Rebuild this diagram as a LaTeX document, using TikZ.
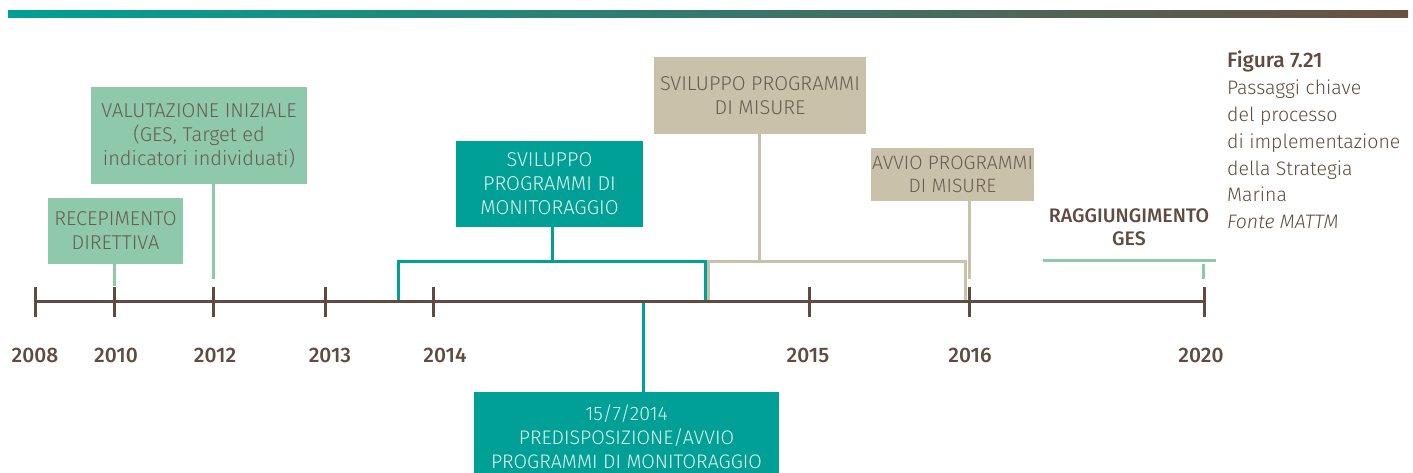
\documentclass[tikz,border=0pt]{standalone}
\usepackage{fontspec}
\IfFontExistsTF{Fira Sans Light}{\setmainfont{Fira Sans}[UprightFont={* Light},BoldFont={* Medium},ItalicFont={* Light Italic},BoldItalicFont={* Medium Italic}]}{\setmainfont{Fira Sans}}
\definecolor{tealc}{HTML}{00A096}
\definecolor{mint}{HTML}{8DC9AA}
\definecolor{beige}{HTML}{C9C1AA}
\definecolor{brownax}{HTML}{5F4B3F}
\definecolor{boxtxt}{HTML}{6B5C50}
\definecolor{lighttxt}{HTML}{E3F4EE}
\definecolor{bartail}{HTML}{6B5040}
\tikzset{
  box/.style={inner sep=0pt, align=center, font=\fontsize{20}{24}\selectfont, text=boxtxt},
  greenbox/.style={box, fill=mint},
  beigebox/.style={box, fill=beige},
  tealbox/.style={box, fill=tealc, text=lighttxt},
  ln/.style={line width=3pt},
  yearlbl/.style={font=\bfseries\fontsize{21}{24}\selectfont, text=brownax, inner sep=0pt},
  tick/.style={line width=3pt, draw=brownax}
}
\begin{document}
\begin{tikzpicture}[x=1pt,y=-1pt]
\useasboundingbox (0,0) rectangle (1413,473);
\clip (0,0) rectangle (1413,473);
% top gradient bar
\shade[left color=tealc, right color=bartail] (8,11) rectangle (1408,18);

% boxes
\node[greenbox, minimum width=135, minimum height=66] (rec) at (115.5,231) {RECEPIMENTO\\DIRETTIVA};
\node[greenbox, minimum width=216, minimum height=97] (val) at (199,135.5) {VALUTAZIONE INIZIALE\\(GES, Target ed\\indicatori individuati)};
\node[tealbox, minimum width=187, minimum height=86] (svmon) at (549.5,184) {SVILUPPO\\PROGRAMMI DI\\MONITORAGGIO};
\node[tealbox, minimum width=305, minimum height=90, font=\fontsize{19.6}{24}\selectfont] (pred) at (626.5,437) {15/7/2014\\PREDISPOSIZIONE/AVVIO\\PROGRAMMI DI MONITORAGGIO};
\node[beigebox, minimum width=212, minimum height=77] (svmis) at (760,95.5) {SVILUPPO PROGRAMMI\\DI MISURE};
\node[beigebox, minimum width=163, minimum height=53, font=\fontsize{19.3}{23}\selectfont] (avvio) at (952.5,174.5) {AVVIO PROGRAMMI\\DI MISURE};
\node[font=\bfseries\fontsize{19.6}{23}\selectfont, text=brownax, align=center, inner sep=0pt] (ges) at (1129,227.5) {RAGGIUNGIMENTO\\GES};

% caption
\node[anchor=north west, align=left, inner sep=0pt, text=brownax, font=\fontsize{19.5}{26.8}\selectfont] (cap) at (1227,51) {{\bfseries\fontsize{21}{26.8}\selectfont Figura 7.21}\\Passaggi chiave\\del processo\\di implementazione\\della Strategia\\Marina\\\textit{Fonte MATTM}};

% coordinates
\coordinate (a2008) at (35,301);
\coordinate (a2020) at (1204,301);
\coordinate (c2010) at (114,286);
\coordinate (c2012) at (213,279);
\coordinate (bl1) at (398,301);
\coordinate (br1) at (705,301);
\coordinate (bl2) at (708,301);
\coordinate (br2) at (965,301);
\coordinate (p2014) at (643,301);
\coordinate (c2016) at (969,279);
\coordinate (gl) at (1043,260);
\coordinate (gr) at (1216,260);
\coordinate (g1) at (1203,264);
\coordinate (g2) at (1203,279);

% connectors
\draw[ln, mint] (rec.south -| c2010) -- (c2010);
\draw[ln, mint] (val.south -| c2012) -- (c2012);
\draw[ln, beige] (svmis.south -| 759,0) -- (759,261);
\draw[ln, beige] (bl2) -- (708,261) -- (965,261) -- (br2);
\draw[ln, tealc] (svmon.south -| 552,0) -- (552,261);
\draw[ln, tealc] (bl1) -- (398,261) -- (705,261) -- (br1);
\draw[ln, tealc] (p2014) -- (pred.north -| p2014);
\draw[ln, beige] (avvio.south -| c2016) -- (c2016);
\draw[ln, mint] (gl) -- (gr);
\draw[ln, mint] (g1) -- (g2);

% axis
\draw[ln, brownax] (a2008) -- (a2020);
\foreach \x/\yr/\lx in {35/2008/35, 114/2010/116, 213/2012/215, 325/2013/330, 433/2014/445, 809/2015/808, 969/2016/970, 1204/2020/1201}{
  \draw[tick] (\x,287) -- (\x,317);
  \node[yearlbl] (y\yr) at (\lx,355.5) {\yr};
}
\end{tikzpicture}
\end{document}
